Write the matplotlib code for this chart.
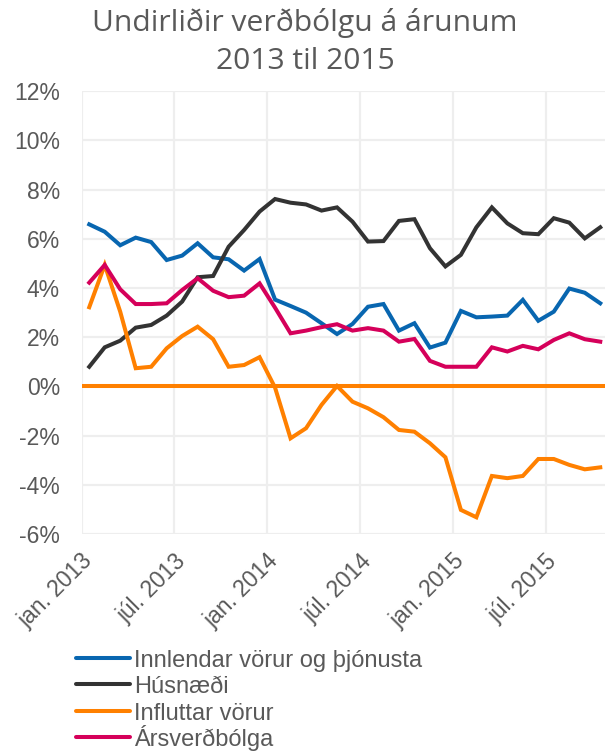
import matplotlib
matplotlib.use("Agg")
import matplotlib.pyplot as plt
from matplotlib.lines import Line2D
import numpy as np
from matplotlib.ticker import FuncFormatter, MultipleLocator

months = ["jan.", "feb.", "mar.", "apr.", "maí", "jún.", "júl.", "ágú.", "sep.", "okt.", "nóv.", "des."]
dates = [f"{months[m]} {y}" for y in (2013, 2014, 2015) for m in range(12)][:34]

innlendar = [6.59, 6.29, 5.74, 6.05, 5.87, 5.14, 5.32, 5.82, 5.25, 5.17, 4.71, 5.18,
             3.53, 3.27, 3.00, 2.57, 2.13, 2.54, 3.24, 3.35, 2.27, 2.57, 1.58, 1.78,
             3.07, 2.81, 2.84, 2.88, 3.52, 2.67, 3.04, 3.98, 3.81, 3.38]
husnaedi = [0.80, 1.59, 1.86, 2.39, 2.50, 2.88, 3.45, 4.44, 4.49, 5.68, 6.36, 7.11,
            7.62, 7.47, 7.40, 7.15, 7.28, 6.70, 5.89, 5.91, 6.73, 6.80, 5.62, 4.88,
            5.35, 6.47, 7.28, 6.63, 6.23, 6.19, 6.84, 6.66, 6.02, 6.47]
influttar = [3.22, 4.94, 3.04, 0.74, 0.80, 1.55, 2.05, 2.43, 1.92, 0.80, 0.87, 1.19,
             -0.05, -2.11, -1.70, -0.75, 0.02, -0.62, -0.89, -1.25, -1.77, -1.84, -2.31, -2.88,
             -5.02, -5.32, -3.64, -3.73, -3.64, -2.95, -2.95, -3.19, -3.37, -3.29]
arsverdbolga = [4.22, 4.94, 3.95, 3.35, 3.35, 3.38, 3.92, 4.40, 3.89, 3.63, 3.69, 4.19,
                3.20, 2.16, 2.27, 2.41, 2.53, 2.27, 2.37, 2.27, 1.82, 1.93, 1.04, 0.80,
                0.80, 0.80, 1.59, 1.42, 1.65, 1.51, 1.89, 2.16, 1.92, 1.82]
zero_level = 0.0

series_names = ["Innlendar vörur og þjónusta", "Húsnæði", "Influttar vörur", "Ársverðbólga"]
colors = ["#0866B0", "#333333", "#FF8000", "#D5005A"]
title = "Undirliðir verðbólgu á árunum\n2013 til 2015"

TXT = "#595959"
W, H = 605, 753
fig = plt.figure(figsize=(W / 100, H / 100), dpi=100)
ax = fig.add_axes([81.5 / W, (H - 534) / H, (608 - 81.5) / W, (534 - 91.3) / H])

x = np.arange(len(dates))
lw = 2.9
ax.axhline(zero_level, color=colors[2], lw=lw, zorder=2)
for vals, name, c in zip([innlendar, husnaedi, influttar, arsverdbolga], series_names, colors):
    ax.plot(x, vals, color=c, lw=lw, label=name, solid_joinstyle="miter", zorder=3)

ax.set_xlim(-0.5, len(dates) - 0.5)
ax.set_ylim(-6, 12)
ax.yaxis.set_major_locator(MultipleLocator(2))
ax.yaxis.set_major_formatter(FuncFormatter(lambda v, p: f"{v:.0f}%"))
ax.set_xticks(np.arange(-0.5, len(dates), 6))
ax.set_xticklabels([])
ax.set_xticks(x[::6], minor=True)
ax.set_xticklabels([dates[i] for i in x[::6]], minor=True, rotation=45, ha="right", va="center",
                   rotation_mode="anchor", fontsize=16.5, color=TXT, family="Liberation Sans")
ax.tick_params(axis="x", which="both", length=0, pad=17)
ax.tick_params(axis="y", length=0, pad=15.5, labelsize=16.5, labelcolor=TXT)
for lab in ax.get_yticklabels():
    lab.set_family("Liberation Sans")
ax.grid(True, which="major", color="#EEEEEE", lw=1.6, zorder=0)
for s in ax.spines.values():
    s.set_visible(False)

fig.text(305 / W, 1 - 42 / H, title, ha="center", va="center",
         fontsize=21.6, color=TXT, family="Open Sans", linespacing=1.38)

# legend drawn as a vertical list below the plot
row_y = [657.5, 684, 710.5, 737]
for yy, name, c in zip(row_y, series_names, colors):
    fig.add_artist(Line2D([76 / W, 130 / W], [1 - yy / H] * 2, transform=fig.transFigure,
                          color=c, lw=lw, solid_capstyle="round"))
    fig.text(134 / W, 1 - (yy + 9) / H, name, ha="left", va="baseline",
             fontsize=17, color=TXT, family="Liberation Sans")

fig.savefig("out.png", dpi=100)
